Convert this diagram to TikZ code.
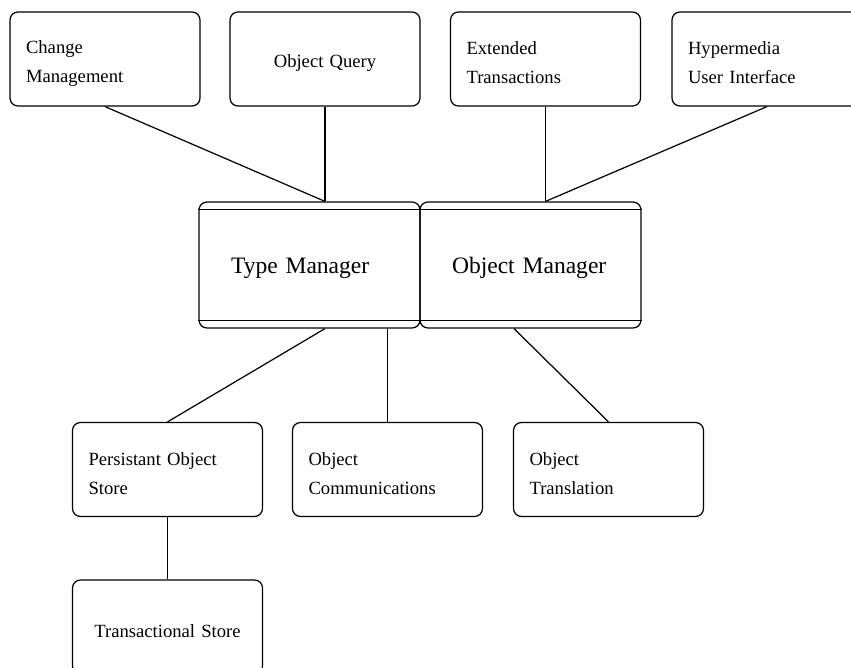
\documentclass[tikz,border=0pt]{standalone}
\usepackage{fontspec}
\setmainfont{Liberation Serif}
\usetikzlibrary{positioning,calc}

\begin{document}
\begin{tikzpicture}[
    x=0.02cm, y=-0.02cm,
    line width=0.7pt,
    cbox/.style={rectangle, draw, rounded corners=4.5pt, minimum width=3.8cm,
                 minimum height=1.88cm, text width=3.16cm, inner xsep=0.32cm,
                 align=left, font=\fontsize{10.6}{16.5}\selectfont,
                 execute at begin node={\rule{0pt}{12pt}}},
    mbox/.style={rectangle, draw, rounded corners=4.5pt, minimum width=4.42cm,
                 minimum height=2.52cm, text width=3.14cm, inner xsep=0.64cm,
                 align=left, font=\fontsize{13.4}{15}\selectfont,
                 execute at begin node={\rule{0pt}{13pt}}},
    link/.style={draw, line width=0.7pt},
  ]

  %% frame of the picture (boxes at the edges are cut off)
  \useasboundingbox (0,0) rectangle (851,668);
  \clip (0,0) rectangle (851,668);

  %% ===== upper row =====
  \node[cbox] (cm) at (105, 59)   {Change\\Management};
  \node[cbox, align=center] (oq) at (325, 59) {Object Query};
  \node[cbox] (et) at (545.5, 59) {Extended\\Transactions};
  \node[cbox] (hm) at (767, 59)   {Hypermedia\\User Interface};

  %% ===== managers =====
  \node[mbox] (tm) at (309.5, 265) {Type Manager};
  \node[mbox] (om) at (530.5, 265) {Object Manager};

  %% inner bands of the managers
  \foreach \m in {tm, om} {
    \draw ([yshift=-0.16cm]\m.north west) -- ([yshift=-0.16cm]\m.north east);
    \draw ([yshift=0.16cm]\m.south west) -- ([yshift=0.16cm]\m.south east);
  }

  %% ===== lower rows =====
  \node[cbox] (pos) at (167.5, 469.5) {Persistant Object\\Store};
  \node[cbox] (oc)  at (387.5, 469.5) {Object\\Communications};
  \node[cbox] (ot)  at (608.5, 469.5) {Object\\Translation};
  \node[cbox, align=center] (ts) at (167.5, 627) {Transactional Store};

  %% ===== connectors =====
  \draw[link] (cm.south) -- ([xshift=0.31cm]tm.north);
  \draw[link] (oq.south) -- (oq.south |- tm.north);
  \draw[link] (et.south) -- (et.south |- om.north);
  \draw[link] (hm.south) -- (et.south |- om.north);

  \draw[link] ([xshift=0.31cm]tm.south) -- (pos.north);
  \draw[link] (oc.north |- tm.south) -- (oc.north);
  \draw[link] ([xshift=-0.33cm]om.south) -- (ot.north);
  \draw[link] (pos.south) -- (ts.north);

\end{tikzpicture}
\end{document}
